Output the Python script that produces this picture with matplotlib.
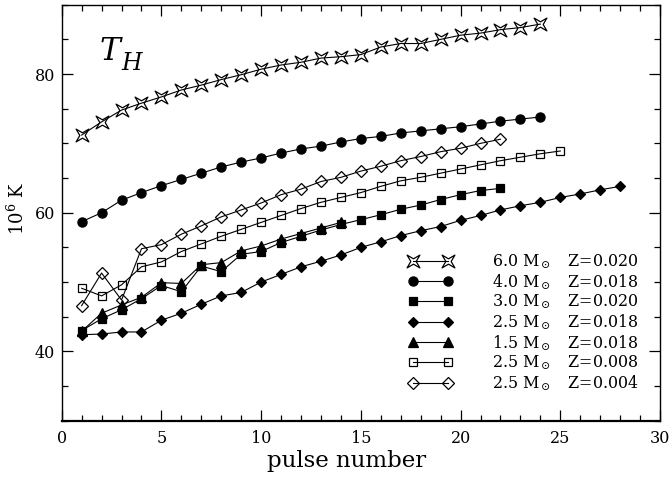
import numpy as np
import matplotlib.pyplot as plt
from matplotlib.path import Path
from matplotlib.lines import Line2D
from matplotlib.legend_handler import HandlerLine2D
from matplotlib.ticker import MultipleLocator

plt.rcParams['font.family'] = 'DejaVu Serif'
plt.rcParams['mathtext.fontset'] = 'dejavuserif'

# temperature at the H-burning shell (10^6 K) for each thermal pulse
m60_z020 = [71.2, 73.1, 74.8, 75.8, 76.7, 77.7, 78.4, 79.2, 79.9, 80.7, 81.3, 81.7,
            82.3, 82.5, 82.8, 83.9, 84.4, 84.4, 85.0, 85.6, 85.9, 86.4, 86.7, 87.2]
m40_z018 = [58.7, 60.0, 61.8, 62.9, 63.9, 64.8, 65.7, 66.6, 67.3, 67.9, 68.6, 69.2,
            69.6, 70.2, 70.7, 71.0, 71.5, 71.8, 72.1, 72.4, 72.8, 73.2, 73.5, 73.8]
m30_z020 = [43.0, 44.7, 46.0, 47.6, 49.5, 48.6, 52.3, 51.5, 54.0, 54.4, 55.7, 56.6,
            57.5, 58.3, 59.0, 59.7, 60.5, 61.1, 61.9, 62.6, 63.2, 63.5]
m25_z018 = [42.4, 42.5, 42.8, 42.8, 44.5, 45.5, 46.8, 48.0, 48.5, 50.0, 51.1, 52.2,
            53.0, 53.9, 55.0, 55.8, 56.7, 57.4, 58.0, 58.9, 59.6, 60.4, 61.0, 61.5,
            62.2, 62.7, 63.3, 63.8]
m15_z018 = [42.9, 45.5, 46.7, 47.8, 49.9, 49.8, 52.5, 52.8, 54.5, 55.2, 56.2, 57.0,
            57.8, 58.6]
m25_z008 = [49.1, 48.0, 49.6, 52.2, 52.9, 54.4, 55.5, 56.6, 57.6, 58.6, 59.6, 60.6,
            61.5, 62.2, 62.9, 63.8, 64.6, 65.1, 65.7, 66.3, 66.9, 67.5, 68.0, 68.5, 68.9]
m25_z004 = [46.6, 51.3, 47.4, 54.8, 55.4, 56.9, 58.1, 59.4, 60.4, 61.4, 62.6, 63.4,
            64.5, 65.1, 66.0, 66.7, 67.5, 68.1, 68.8, 69.3, 70.0, 70.6]

labels = [r"6.0 M$_\odot$   Z=0.020",
          r"4.0 M$_\odot$   Z=0.018",
          r"3.0 M$_\odot$   Z=0.020",
          r"2.5 M$_\odot$   Z=0.018",
          r"1.5 M$_\odot$   Z=0.018",
          r"2.5 M$_\odot$   Z=0.008",
          r"2.5 M$_\odot$   Z=0.004"]

# open four-pointed star
star = Path([(-1, -1), (0, -0.42), (1, -1), (0.42, 0), (1, 1), (0, 0.42),
             (-1, 1), (-0.42, 0), (-1, -1)], closed=True)

series = [
    (m60_z020, dict(marker=star, ms=9.2, mfc='none')),
    (m40_z018, dict(marker='o', ms=6.6, mfc='black')),
    (m30_z020, dict(marker='s', ms=5.8, mfc='black')),
    (m25_z018, dict(marker='D', ms=5.3, mfc='black')),
    (m15_z018, dict(marker='^', ms=6.5, mfc='black')),
    (m25_z008, dict(marker='s', ms=6.4, mfc='none')),
    (m25_z004, dict(marker='D', ms=6.4, mfc='none')),
]

fig = plt.figure(figsize=(6.7, 4.79), dpi=100)
ax = fig.add_axes([0.0921, 0.1217, 0.893, 0.8685])

for (vals, style), lab in zip(series, labels):
    x = np.arange(1, len(vals) + 1)
    ax.plot(x, vals, color='black', lw=0.8, mec='black', mew=0.9,
            label=lab, **style)

ax.set_xlim(0, 30)
ax.set_ylim(30, 90)
ax.xaxis.set_major_locator(MultipleLocator(5))
ax.xaxis.set_minor_locator(MultipleLocator(1))
ax.yaxis.set_major_locator(MultipleLocator(20))
ax.yaxis.set_minor_locator(MultipleLocator(5))
ax.tick_params(which='both', direction='in', top=True, right=True,
               labelsize=11.5, width=0.9)
ax.tick_params(which='major', length=8)
ax.tick_params(which='minor', length=4)
ax.tick_params(axis='x', which='major', pad=7)
ax.tick_params(axis='y', which='major', pad=5)
for sp in ax.spines.values():
    sp.set_linewidth(1.0)
ax.spines['bottom'].set_linewidth(1.6)

ax.set_xlabel("pulse number", fontsize=16.5)
ax.xaxis.set_label_coords(0.476, -0.07)
ax.set_ylabel(r"10$^6$ K", fontsize=13)
ax.yaxis.set_label_coords(-0.056, 0.51)

ax.text(0.064, 0.867, "T", transform=ax.transAxes, fontsize=22.5,
        fontstyle='italic', va='baseline')
ax.text(0.1, 0.843, "H", transform=ax.transAxes, fontsize=17,
        fontstyle='italic', va='baseline')

ax.legend(loc='upper left', bbox_to_anchor=(0.55, 0.405), frameon=False,
          fontsize=11.4, handlelength=5.0, handletextpad=1.4, labelspacing=0.06,
          borderpad=0, borderaxespad=0,
          handler_map={Line2D: HandlerLine2D(marker_pad=1.4, numpoints=2)})

fig.savefig("out.png", dpi=100)
